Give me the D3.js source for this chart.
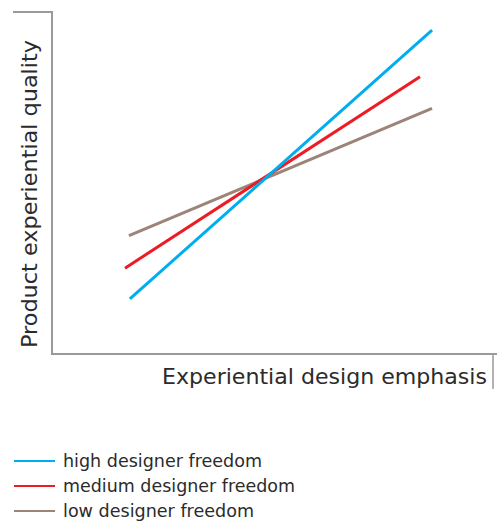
<!DOCTYPE html>
<html>
<head>
<meta charset="utf-8">
<script src="https://cdn.jsdelivr.net/npm/d3@7"></script>
<style>
  html, body { margin: 0; padding: 0; background: #fff; }
  svg { display: block; }
  text { font-family: "DejaVu Sans", "Open Sans", sans-serif; fill: #2b2b2b; }
</style>
</head>
<body>
<script>
// Data (abstract units 0-100 on both axes)
const seriesNames = ["high designer freedom", "medium designer freedom", "low designer freedom"];
const seriesColors = ["#00aeef", "#ed1c24", "#9c8478"];
const highFreedom = [[17.5, 16.1], [85.4, 94.7]];
const mediumFreedom = [[16.4, 25.1], [82.7, 81.1]];
const lowFreedom = [[17.3, 34.6], [85.4, 71.8]];
const xAxisLabel = "Experiential design emphasis";
const yAxisLabel = "Product experiential quality";

const W = 499, H = 522;
const svg = d3.select("body").append("svg").attr("width", W).attr("height", H);

const x = d3.scaleLinear().domain([0, 100]).range([52, 497]);
const y = d3.scaleLinear().domain([0, 100]).range([354, 12]);

const axisColor = "#9a9a9a";
svg.append("path")
  .attr("d", `M13,${y(100)}H${x(0)}V${y(0)}H${x(100)}`)
  .attr("fill", "none").attr("stroke", axisColor).attr("stroke-width", 2);
svg.append("line")
  .attr("x1", 493).attr("x2", 493).attr("y1", y(0)).attr("y2", 389)
  .attr("stroke", axisColor).attr("stroke-width", 1.5);

const line = d3.line().x(d => x(d[0])).y(d => y(d[1]));
const allSeries = [lowFreedom, mediumFreedom, highFreedom];
const allColors = [seriesColors[2], seriesColors[1], seriesColors[0]];
allSeries.forEach((s, i) => {
  svg.append("path").attr("d", line(s)).attr("fill", "none")
    .attr("stroke", allColors[i]).attr("stroke-width", 3).attr("stroke-linecap", "butt");
});

// axis labels
svg.append("text").attr("x", 162).attr("y", 384)
  .attr("font-size", 21).attr("textLength", 325).attr("lengthAdjust", "spacingAndGlyphs")
  .text(xAxisLabel);
svg.append("text").attr("transform", "translate(37,348) rotate(-90)")
  .attr("font-size", 21).attr("textLength", 308).attr("lengthAdjust", "spacingAndGlyphs")
  .text(yAxisLabel);

// legend
const legendWidths = [199, 232, 191];
seriesNames.forEach((n, i) => {
  const ly = 461 + i * 25;
  svg.append("line").attr("x1", 14).attr("x2", 55).attr("y1", ly).attr("y2", ly)
    .attr("stroke", seriesColors[i]).attr("stroke-width", 2);
  svg.append("text").attr("x", 63).attr("y", ly + 6).attr("font-size", 17)
    .attr("textLength", legendWidths[i]).attr("lengthAdjust", "spacingAndGlyphs").text(n);
});
</script>
</body>
</html>
